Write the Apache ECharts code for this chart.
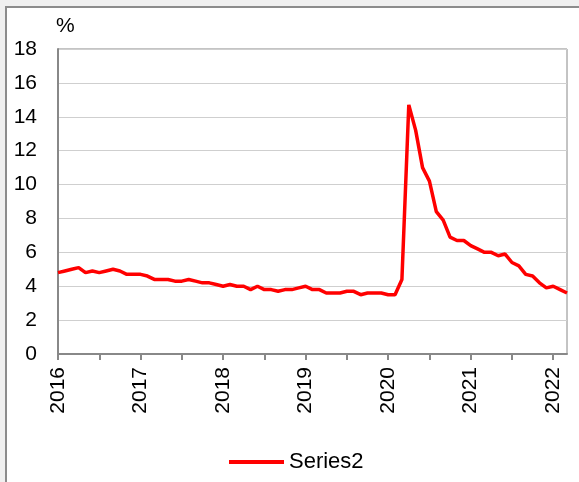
<!DOCTYPE html>
<html>
<head>
<meta charset="utf-8">
<script src="https://cdn.jsdelivr.net/npm/echarts@6/dist/echarts.min.js"></script>
<style>
  html, body { margin: 0; padding: 0; background: #f0f0f0; }
  #chart { width: 579px; height: 482px; }
</style>
</head>
<body>
<div id="chart"></div>
<script>
// monthly, Jan 2016 .. Mar 2022
const years = [2016, 2017, 2018, 2019, 2020, 2021, 2022];
const rate2016 = [4.8, 4.9, 5.0, 5.1, 4.8, 4.9, 4.8, 4.9, 5.0, 4.9, 4.7, 4.7];
const rate2017 = [4.7, 4.6, 4.4, 4.4, 4.4, 4.3, 4.3, 4.4, 4.3, 4.2, 4.2, 4.1];
const rate2018 = [4.0, 4.1, 4.0, 4.0, 3.8, 4.0, 3.8, 3.8, 3.7, 3.8, 3.8, 3.9];
const rate2019 = [4.0, 3.8, 3.8, 3.6, 3.6, 3.6, 3.7, 3.7, 3.5, 3.6, 3.6, 3.6];
const rate2020 = [3.5, 3.5, 4.4, 14.7, 13.2, 11.0, 10.2, 8.4, 7.9, 6.9, 6.7, 6.7];
const rate2021 = [6.4, 6.2, 6.0, 6.0, 5.8, 5.9, 5.4, 5.2, 4.7, 4.6, 4.2, 3.9];
const rate2022 = [4.0, 3.8, 3.6];
const yTicks = [0, 2, 4, 6, 8, 10, 12, 14, 16, 18];

const values = [].concat(rate2016, rate2017, rate2018, rate2019, rate2020, rate2021, rate2022);
// category labels "YYYY-MM"
const months = [];
years.forEach(function (y) {
    for (let m = 1; m <= 12; m++) {
        if (months.length < values.length) months.push(y + "-" + (m < 10 ? "0" + m : m));
    }
});

const font = "Liberation Sans, Arial, sans-serif";
const chart = echarts.init(document.getElementById("chart"));
const option = {
    backgroundColor: "#f0f0f0",
    animation: false,
    textStyle: { fontFamily: font, color: "#000" },
    graphic: [
        {
            type: "rect",
            z: -10,
            shape: { x: 6, y: 7, width: 600, height: 500 },
            style: { fill: "#fff", stroke: "#8c8c8c", lineWidth: 2 }
        },
        {
            type: "text",
            left: 56, top: 16,
            style: { text: "%", fontSize: 21, fill: "#000", fontFamily: font }
        }
    ],
    grid: {
        left: 58, top: 49, width: 509, height: 305,
        show: true, borderColor: "#888", borderWidth: 1, backgroundColor: "transparent"
    },
    legend: {
        left: 224, top: 446,
        icon: "rect",
        itemWidth: 55, itemHeight: 4, itemGap: 4,
        textStyle: { fontSize: 22, color: "#000", padding: [0, 0, 0, 0] },
        data: ["Series2"]
    },
    xAxis: {
        type: "category",
        data: months,
        boundaryGap: false,
        axisLine: { lineStyle: { color: "#888", width: 2 } },
        axisTick: { interval: 5, length: 6, lineStyle: { color: "#888", width: 2 } },
        axisLabel: {
            interval: 11,
            rotate: 90,
            margin: 13,
            fontSize: 21,
            color: "#000",
            formatter: function (v) { return v.slice(0, 4); }
        },
        splitLine: { show: false }
    },
    yAxis: {
        type: "value",
        min: yTicks[0],
        max: yTicks[yTicks.length - 1],
        interval: 2,
        axisLine: { show: true, lineStyle: { color: "#888", width: 2 } },
        axisTick: { show: false },
        axisLabel: { fontSize: 21, color: "#000", margin: 21 },
        splitLine: { lineStyle: { color: "#cfcfcf", width: 1 } }
    },
    series: [
        {
            name: "Series2",
            type: "line",
            data: values,
            symbol: "none",
            lineStyle: { color: "#ff0000", width: 3.5 },
            itemStyle: { color: "#ff0000" }
        }
    ]
};
chart.setOption(option);
</script>
</body>
</html>
